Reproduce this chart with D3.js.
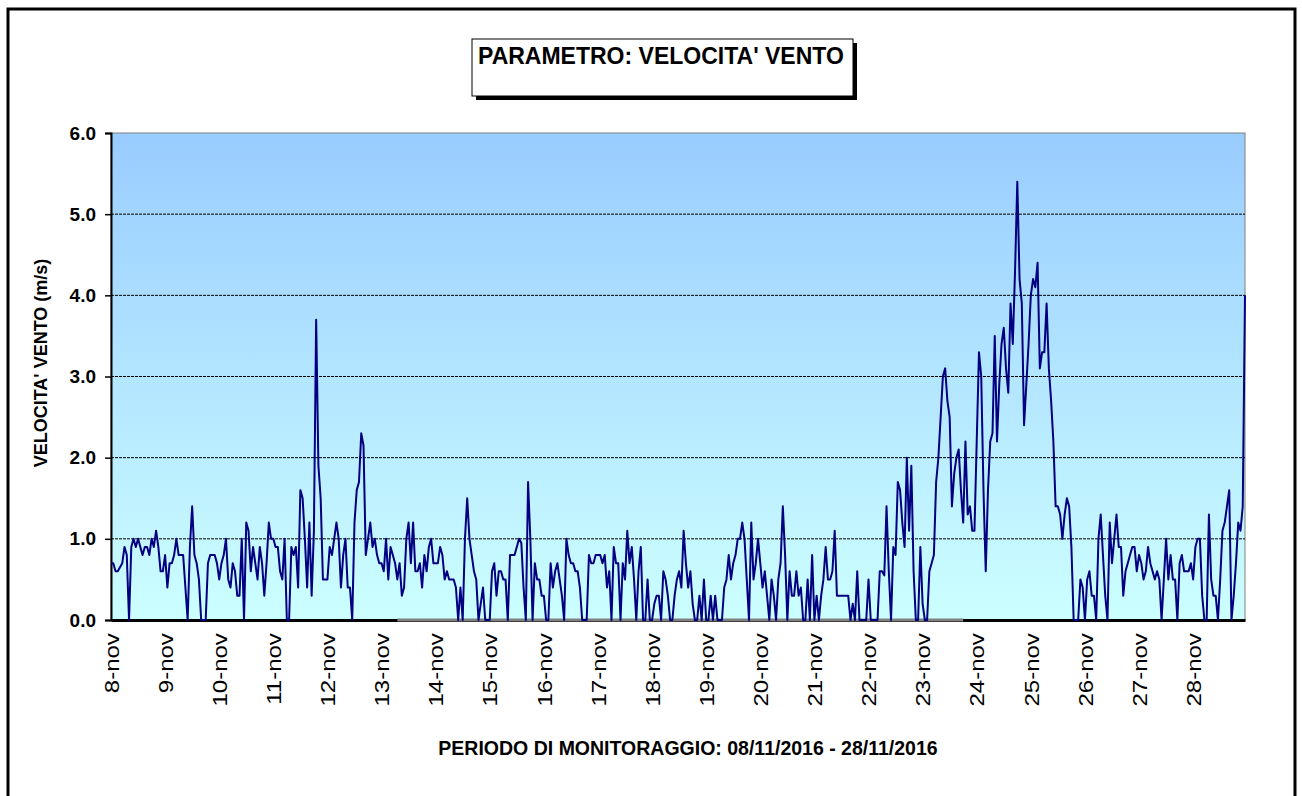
<!DOCTYPE html>
<html>
<head>
<meta charset="utf-8">
<script src="https://cdn.jsdelivr.net/npm/d3@7"></script>
<style>
  body { margin: 0; background: #fff; }
  text { font-family: "Liberation Sans", Arial, sans-serif; }
</style>
</head>
<body>
<script>
'use strict';

// velocita' vento orarie (m/s), un array per giorno (24 valori)
let nov08 = [0.7,0.7,0.6,0.6,0.65,0.7,0.9,0.8,0,0.9,1.0,0.9,1.0,0.9,0.8,0.9,0.9,0.8,1.0,0.9,1.1,0.9,0.6,0.6];
let nov09 = [0.8,0.4,0.7,0.7,0.8,1.0,0.8,0.8,0.8,0.4,0,0.9,1.4,0.8,0.7,0.5,0,0,0,0.7,0.8,0.8,0.8,0.7];
let nov10 = [0.5,0.7,0.8,1.0,0.5,0.4,0.7,0.6,0.3,0.3,1.0,0,1.2,1.1,0.6,0.9,0.7,0.5,0.9,0.7,0.3,0.7,1.2,1.0];
let nov11 = [1.0,0.9,0.9,0.6,0.5,1.0,0,0,0.9,0.8,0.9,0.4,1.6,1.5,1.0,0.4,1.2,0.3,1.1,3.7,1.9,1.5,0.5,0.5];
let nov12 = [0.5,0.9,0.8,1.0,1.2,1.0,0.4,0.8,1.0,0.4,0.4,0,1.2,1.6,1.7,2.3,2.15,0.8,1.0,1.2,0.9,1.0,0.8,0.7];
let nov13 = [0.7,0.6,1.0,0.5,0.9,0.8,0.7,0.5,0.7,0.3,0.4,1.0,1.2,0.7,1.2,0.6,0.6,0.7,0.4,0.8,0.6,0.9,1.0,0.7];
let nov14 = [0.7,0.7,0.9,0.8,0.5,0.6,0.5,0.5,0.5,0.4,0,0.4,0,1.0,1.5,1.0,0.8,0.6,0.5,0,0.2,0.4,0,0];
let nov15 = [0,0.6,0.7,0.3,0.6,0.6,0.5,0.5,0,0.8,0.8,0.8,0.9,1.0,0.95,0.4,0,1.7,1.0,0,0.7,0.5,0.5,0.3];
let nov16 = [0.3,0,0,0.7,0.4,0.6,0.7,0.5,0.3,0,1.0,0.8,0.7,0.7,0.6,0.6,0.4,0,0,0,0.8,0.7,0.7,0.8];
let nov17 = [0.8,0.8,0.7,0.8,0.4,0.6,0,0.9,0.7,0.7,0,0.7,0.5,1.1,0.7,0.9,0.5,0,0.6,0.9,0,0,0.5,0];
let nov18 = [0,0.2,0.3,0.3,0,0.6,0.5,0.3,0,0,0.3,0.5,0.6,0.4,1.1,0.7,0.4,0.6,0.2,0,0,0.3,0,0.5];
let nov19 = [0,0,0.3,0,0.3,0,0,0,0.4,0.5,0.8,0.5,0.7,0.8,1.0,1.0,1.2,1.0,0.5,0,1.2,0.5,0.7,1.0];
let nov20 = [0.7,0.4,0.6,0.3,0,0.5,0.3,0,0.5,0.7,1.4,0.8,0,0.6,0.3,0.3,0.6,0.3,0.4,0,0,0.5,0,0.8];
let nov21 = [0,0.3,0,0.3,0.5,0.9,0.5,0.5,0.6,1.1,0.3,0.3,0.3,0.3,0.3,0.3,0,0.2,0,0.6,0,0,0,0];
let nov22 = [0.5,0,0,0,0,0.6,0.6,0.55,1.4,0.6,0,0.9,0.8,1.7,1.6,1.2,0.9,2.0,1.1,1.9,0.6,0,0,0.9];
let nov23 = [0.2,0,0,0.6,0.7,0.8,1.7,2.0,2.5,3.0,3.1,2.7,2.5,1.4,1.8,2.0,2.1,1.6,1.2,2.2,1.3,1.4,1.1,1.1];
let nov24 = [2.2,3.3,3.0,1.6,0.6,1.6,2.2,2.3,3.5,2.2,2.9,3.4,3.6,3.1,2.8,3.9,3.4,4.3,5.4,4.2,3.9,2.4,2.9,3.4];
let nov25 = [4.0,4.2,4.1,4.4,3.1,3.3,3.3,3.9,3.1,2.7,2.2,1.4,1.4,1.3,1.0,1.3,1.5,1.4,0.9,0,0,0,0.5,0.4];
let nov26 = [0,0.5,0.6,0.3,0.3,0,1.0,1.3,0.8,0.3,0,1.2,0.7,1.0,1.3,0.9,0.9,0.3,0.6,0.7,0.8,0.9,0.9,0.6];
let nov27 = [0.8,0.7,0.5,0.6,0.9,0.7,0.6,0.5,0.6,0.5,0,0.5,1.0,0.5,0.8,0.5,0.5,0,0.7,0.8,0.6,0.6,0.6,0.7];
let nov28 = [0.5,0.9,1.0,1.0,0.3,0,0,1.3,0.5,0.3,0.3,0,0.5,1.1,1.2,1.4,1.6,0,0.3,0.7,1.2,1.1,1.4,4.0];

let giorni = ['8-nov','9-nov','10-nov','11-nov','12-nov','13-nov','14-nov','15-nov','16-nov','17-nov',
  '18-nov','19-nov','20-nov','21-nov','22-nov','23-nov','24-nov','25-nov','26-nov','27-nov','28-nov'];
let yTicks = [0, 1, 2, 3, 4, 5, 6];
// seconda serie (grigia) a zero: ore di inizio e fine
let grigiaOre = [127, 378];

let titolo = "PARAMETRO: VELOCITA' VENTO";
let titoloY = "VELOCITA' VENTO (m/s)";
let titoloX = "PERIODO DI MONITORAGGIO: 08/11/2016 - 28/11/2016";

(function() {

  let svgContainer = "";
  let width = 1302;
  let height = 796;
  let plot = { left: 111, right: 1245, top: 133, bottom: 620 };
  let data = [];

  window.onload = function() {
    let giornate = [nov08, nov09, nov10, nov11, nov12, nov13, nov14, nov15, nov16, nov17, nov18,
      nov19, nov20, nov21, nov22, nov23, nov24, nov25, nov26, nov27, nov28];
    data = [].concat(...giornate).map((v, i) => ({ ora: i, v: v }));

    svgContainer = d3.select('body')
      .append('svg')
      .attr('width', width)
      .attr('height', height);

    // cornice esterna
    svgContainer.append('rect')
      .attr('x', 8).attr('y', 9)
      .attr('width', 1287).attr('height', 820)
      .attr('fill', '#fff')
      .attr('stroke', '#000')
      .attr('stroke-width', 3);

    let map = drawAxes();
    plotData(map);
    makeLabels();
  }

  function drawAxes() {
    let xScale = d3.scaleLinear()
      .domain([0, data.length - 1])
      .range([plot.left, plot.right]);
    let yScale = d3.scaleLinear()
      .domain([0, 6])
      .range([plot.bottom, plot.top]);

    let defs = svgContainer.append('defs');
    let grad = defs.append('linearGradient')
      .attr('id', 'sfondo')
      .attr('x1', 0).attr('y1', 0).attr('x2', 0).attr('y2', 1);
    grad.append('stop').attr('offset', '0%').attr('stop-color', '#99ccff');
    grad.append('stop').attr('offset', '100%').attr('stop-color', '#ccffff');

    svgContainer.append('rect')
      .attr('x', plot.left).attr('y', plot.top)
      .attr('width', plot.right - plot.left)
      .attr('height', plot.bottom - plot.top)
      .attr('fill', 'url(#sfondo)')
      .attr('stroke', '#808080')
      .attr('stroke-width', 1);

    // griglia tratteggiata
    svgContainer.selectAll('.griglia')
      .data(yTicks.filter(d => d > 0 && d < 6))
      .enter()
      .append('line')
      .attr('class', 'griglia')
      .attr('x1', plot.left).attr('x2', plot.right)
      .attr('y1', d => yScale(d)).attr('y2', d => yScale(d))
      .attr('stroke', '#000')
      .attr('stroke-width', 1)
      .attr('stroke-dasharray', '3,1');

    let yAxis = d3.axisLeft(yScale)
      .tickValues(yTicks)
      .tickSize(6)
      .tickPadding(9)
      .tickFormat(d3.format('.1f'));
    let gy = svgContainer.append('g')
      .attr('transform', 'translate(' + plot.left + ',0)')
      .call(yAxis);
    gy.select('.domain').attr('stroke-width', 2);
    gy.selectAll('line').attr('stroke-width', 1.5);
    gy.selectAll('text')
      .style('font-size', '19px')
      .style('font-weight', 'bold')
      .attr('fill', '#000');

    let xAxis = d3.axisBottom(xScale)
      .tickValues(giorni.map((g, i) => i * 24))
      .tickSize(0)
      .tickFormat((d, i) => giorni[i]);
    let gx = svgContainer.append('g')
      .attr('transform', 'translate(0,' + plot.bottom + ')')
      .call(xAxis);
    gx.select('.domain').attr('stroke-width', 3);
    // etichette verticali, un po' allungate come nell'originale
    gx.selectAll('text')
      .attr('transform', 'rotate(-90)scale(1.2,1)')
      .attr('text-anchor', 'end')
      .attr('x', -11)
      .attr('y', 0)
      .attr('dy', '0.36em')
      .style('font-size', '20px')
      .attr('fill', '#000');

    return { xScale: xScale, yScale: yScale };
  }

  function plotData(map) {
    let grigia = d3.range(grigiaOre[0], grigiaOre[1] + 1).map(h => ({ ora: h, v: 0 }));
    let line = d3.line()
      .x(d => map.xScale(d.ora))
      .y(d => map.yScale(d.v));

    svgContainer.append('path')
      .datum(grigia)
      .attr('d', line)
      .attr('fill', 'none')
      .attr('stroke', '#808080')
      .attr('stroke-width', 3);

    svgContainer.append('path')
      .datum(data)
      .attr('d', line)
      .attr('fill', 'none')
      .attr('stroke', '#000080')
      .attr('stroke-width', 2)
      .attr('stroke-linejoin', 'round');
  }

  // titolo e titoli degli assi
  function makeLabels() {
    svgContainer.append('rect')
      .attr('x', 476).attr('y', 43)
      .attr('width', 381).attr('height', 57)
      .attr('fill', '#000');
    svgContainer.append('rect')
      .attr('x', 472).attr('y', 39)
      .attr('width', 381).attr('height', 57)
      .attr('fill', '#fff')
      .attr('stroke', '#000')
      .attr('stroke-width', 1);
    svgContainer.append('text')
      .attr('x', 478)
      .attr('y', 64)
      .style('font-size', '23px')
      .style('font-weight', 'bold')
      .text(titolo);

    svgContainer.append('text')
      .attr('transform', 'translate(47, 363)rotate(-90)')
      .attr('text-anchor', 'middle')
      .style('font-size', '18px')
      .style('font-weight', 'bold')
      .text(titoloY);

    svgContainer.append('text')
      .attr('x', 688)
      .attr('y', 755)
      .attr('text-anchor', 'middle')
      .style('font-size', '19.5px')
      .style('font-weight', 'bold')
      .text(titoloX);
  }

})();
</script>
</body>
</html>
